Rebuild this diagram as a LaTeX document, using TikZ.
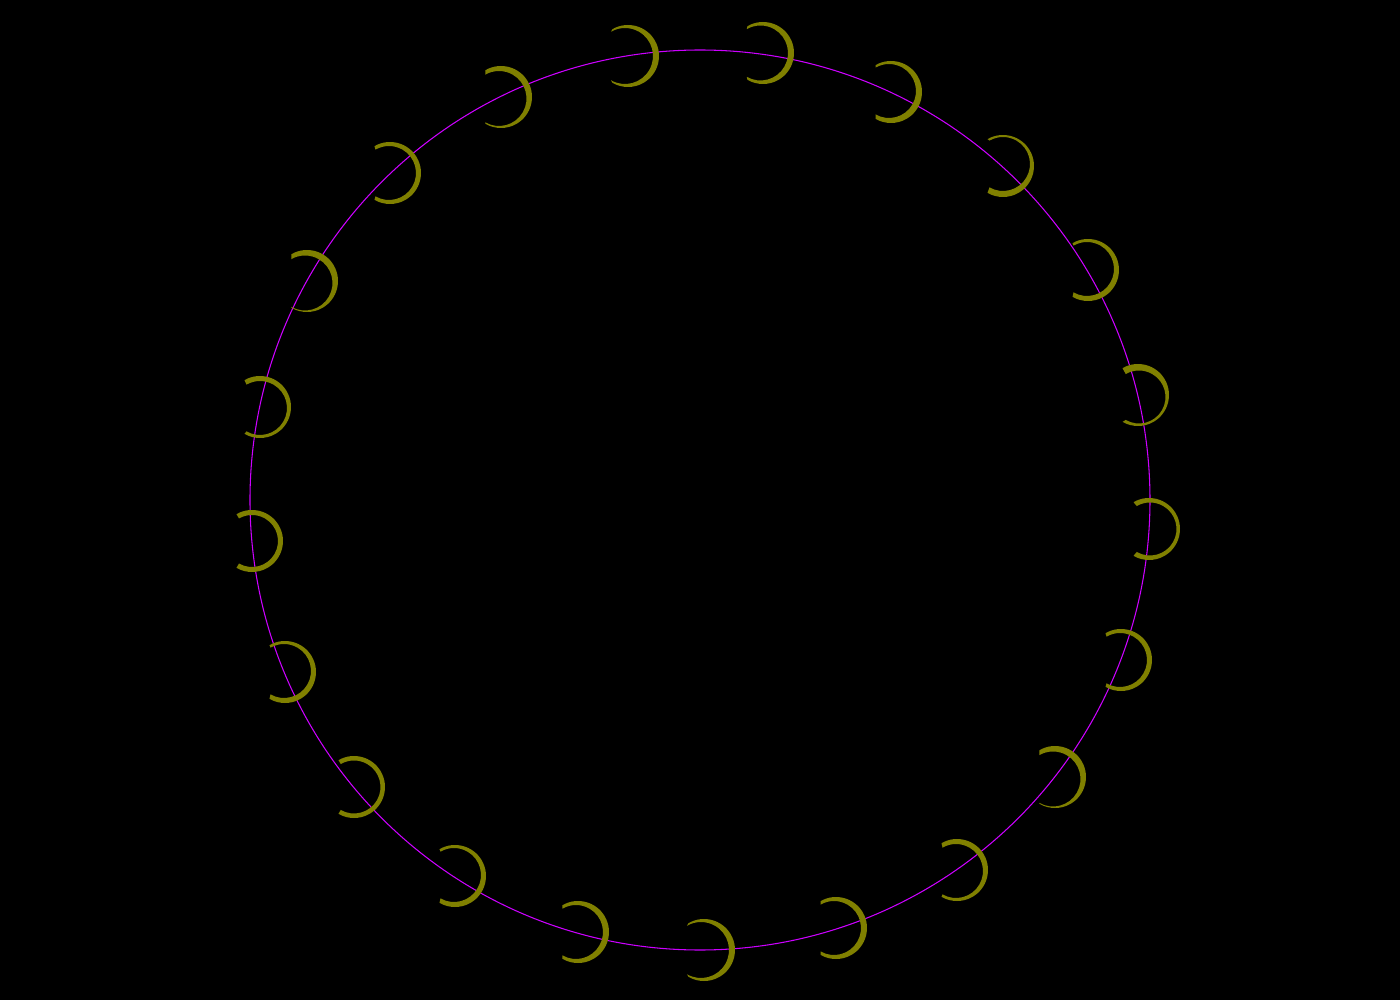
\documentclass[tikz,border=0pt]{standalone}
\usepackage{tikz}

\definecolor{ringline}{RGB}{204,0,255}
\definecolor{moonfill}{RGB}{128,128,0}

\begin{document}
\begin{tikzpicture}[
      x=0.01cm, y=0.01cm,
      ring/.style={draw=ringline, line width=0.3pt},
      crescent/.style={fill=moonfill}
    ]
      % background fixes the page size
      \fill[black] (-700,-500) rectangle (700,500);

      \coordinate (hub) at (0,0);
      \draw[ring] (hub) circle[radius=450];

      % crescents: centre / offset of inner arc / inner radius
      \foreach \x/\y/\dx/\dy/\r in {
          -72/444/-3/0/28, 63/447/-2.5/0/27.5, 191/408/-2/1/27, 303/334/0/2/27,
          388/230/-1/1/27, 438/105/1/-2/26.5, 449/-29/1/0/26.5, 421/-160/-1/0/27,
          355/-277/-2/-2/27.5, 257/-370/-1/-1/27, 136/-428/-2/0/27, 4/-450/-3/0/28,
          -122/-432/-2/0/27, -245/-376/-1/1/27, -346/-287/0/0/26.5, -415/-172/-1/1/27,
          -448/-41/0/0/26, -440/93/0/-1/27, -393/219/-2/-2/27.5, -310/327/-1/0/27,
          -199/403/-2/-1.5/27.5} {
        \fill[crescent] (\x,\y) ++(120:31) arc[start angle=120, end angle=-120, radius=31]
          -- ([shift={(-120:\r)}] \x+\dx,\y+\dy) arc[start angle=-120, end angle=120, radius=\r] -- cycle;
      }
    \end{tikzpicture}
\end{document}
